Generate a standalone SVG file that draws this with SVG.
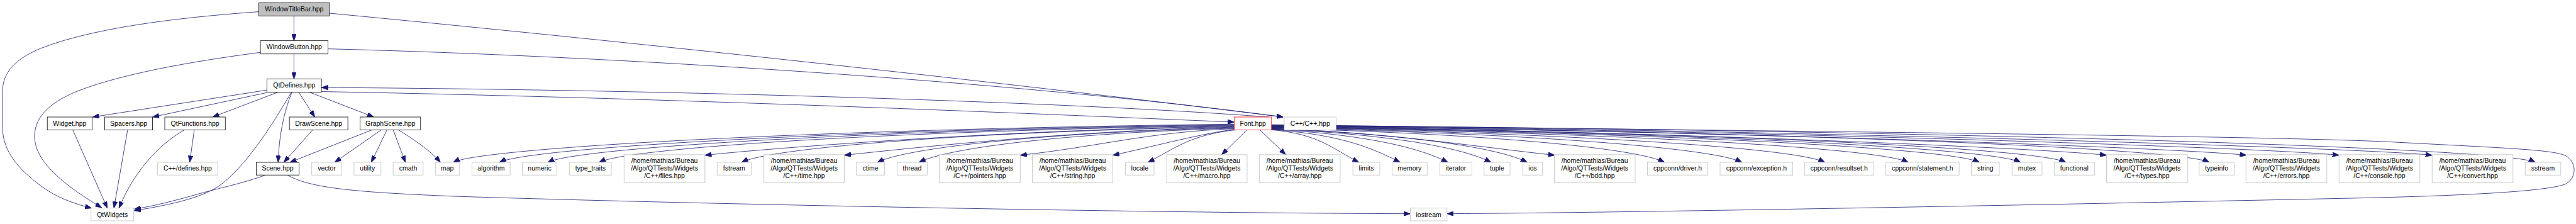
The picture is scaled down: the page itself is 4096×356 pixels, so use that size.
<svg xmlns="http://www.w3.org/2000/svg" width="4096" height="356" viewBox="0 0 4096 356">
<defs>
<marker id="a" viewBox="0 0 13 9.4" refX="13" refY="4.7" markerWidth="13" markerHeight="9.4" orient="auto" markerUnits="userSpaceOnUse"><path d="M0,0 L13,4.7 L0,9.4 Z" fill="#191970" stroke="#191970" stroke-width="1"/></marker>
<style>
.e path{fill:none;stroke:#191970;stroke-width:1;marker-end:url(#a)}
rect{fill:#fff;stroke-width:1}
.k rect{stroke:#000}
.g rect{stroke:#bfbfbf}
.r rect{stroke:#ff0000}
.m rect{fill:#bfbfbf;stroke:#000}
text{font-family:"Liberation Sans",Arial,Helvetica,sans-serif;font-size:13px;text-anchor:middle;fill:#000}
</style>
</defs>
<rect x="0" y="0" width="4096" height="356" style="fill:#fff;stroke:none"/>
<g transform="scale(0.8087)">
<g id="edges" class="e">
<path d="M578,31 L578,80"/>
<path d="M578,106 L578,155"/>
<path d="M509,23 C400,31 200,48 80,95 C20,120 5,150 5,180 L5,250 C5,300 40,335 80,365 C110,388 145,400 180,409"/>
<path d="M512,103 C420,115 250,140 150,180 C90,205 68,235 68,268 C68,310 110,355 200,408"/>
<path d="M525,177 L182,230"/>
<path d="M525,182 L300,230"/>
<path d="M547,181 L418,230"/>
<path d="M573,181 C530,255 480,330 430,366 C390,392 320,405 264,414"/>
<path d="M574,181 C558,220 548,270 547,319"/>
<path d="M587,181 L619,230"/>
<path d="M608,181 L735,230"/>
<path d="M615,255 L558,319"/>
<path d="M732,255 L570,319"/>
<path d="M750,255 L658,319"/>
<path d="M761,255 L730,319"/>
<path d="M773,255 L797,319"/>
<path d="M783,255 C815,275 845,295 866,319"/>
<path d="M382,255 L373,319"/>
<path d="M363,255 C310,285 262,340 234,409"/>
<path d="M143,255 L211,409"/>
<path d="M251,255 L224,409"/>
<path d="M522,344 C480,360 420,372 380,384 C330,398 300,405 264,411"/>
<path d="M565,344 C610,370 700,378 900,386 C1400,402 2300,419 2773,420"/>
<path d="M648,26 C1250,83 2000,165 2523,230"/>
<path d="M645,96 C1200,110 2000,160 2523,230"/>
<path d="M2495,230 C2100,200 1300,176 632,172"/>
<path d="M632,180 C1300,192 2000,222 2427,240"/>
<path d="M2427,244 C1583,254 946,291 891,319"/>
<path d="M2427,245 C1635,255 1037,291 982,319"/>
<path d="M2427,246 C1688,256 1132,291 1077,319"/>
<path d="M2427,247 C1745,257 1233,291 1178,319"/>
<path d="M2427,248 C2011,254 1536,289 1386,305"/>
<path d="M2427,249 C1898,259 1513,291 1458,319"/>
<path d="M2427,250 C2120,256 1810,289 1660,305"/>
<path d="M2427,251 C2045,261 1780,291 1725,319"/>
<path d="M2427,252 C2089,262 1862,291 1807,319"/>
<path d="M2427,253 C2259,259 2156,289 2006,305"/>
<path d="M2427,254 C2350,265 2260,290 2188,305"/>
<path d="M2432,255 C2339,265 2312,291 2257,319"/>
<path d="M2452,255 L2402,304"/>
<path d="M2477,255 L2528,304"/>
<path d="M2500,255 C2595,264 2617,291 2672,319"/>
<path d="M2500,254.5 C2639,265 2698,291 2753,319"/>
<path d="M2500,254 C2691,265 2792,291 2847,319"/>
<path d="M2500,253.5 C2738,264 2877,291 2932,319"/>
<path d="M2500,253 C2777,264 2948,291 3003,319"/>
<path d="M2500,252.5 C2723,259.5 2907,289 3057,305"/>
<path d="M2500,252 C2925,263 3218,291 3273,319"/>
<path d="M2500,251.5 C3009,262 3370,291 3425,319"/>
<path d="M2500,251 C3098,262 3533,291 3588,319"/>
<path d="M2500,250.5 C3189,261 3697,291 3752,319"/>
<path d="M2500,250 C3266,261 3837,291 3892,319"/>
<path d="M2500,249.5 C3310,260 3918,291 3973,319"/>
<path d="M2500,249 C3359,260 4007,291 4062,319"/>
<path d="M2500,248.5 C3157,255.5 3992,289 4142,305"/>
<path d="M2500,248 C3514,259 4289,291 4344,319"/>
<path d="M2500,247.5 C3267,254.5 4267,289 4417,305"/>
<path d="M2500,247 C3340,254 4449,289 4599,305"/>
<path d="M2500,246.5 C3413,253.5 4632,289 4782,305"/>
<path d="M2500,246 C3867,257 4930,291 4985,319"/>
<path d="M2500,245 C3200,255 4500,266 4720,280 C4950,292 5030,295 5048,308 C5066,322 5066,348 5046,361 C5010,378 4800,386 4600,390 C4000,403 3200,418 2845,420"/>
</g>
<g id="n-windowtitlebar" class="m"><rect x="509" y="5.7" width="139" height="25.6"/><text x="578.5" y="22.5">WindowTitleBar.hpp</text></g>
<g id="n-windowbutton" class="k"><rect x="512" y="80" width="133" height="26"/><text x="578.5" y="97">WindowButton.hpp</text></g>
<g id="n-qtdefines" class="k"><rect x="525" y="155" width="107" height="26"/><text x="578.5" y="172">QtDefines.hpp</text></g>
<g id="n-widget" class="k"><rect x="93" y="230" width="88" height="25.5"/><text x="137" y="247">Widget.hpp</text></g>
<g id="n-spacers" class="k"><rect x="206" y="230" width="94" height="25.5"/><text x="253" y="247">Spacers.hpp</text></g>
<g id="n-qtfunctions" class="k"><rect x="324" y="230" width="119" height="25.5"/><text x="383.5" y="247">QtFunctions.hpp</text></g>
<g id="n-drawscene" class="k"><rect x="569" y="230" width="115" height="25.5"/><text x="626.5" y="247">DrawScene.hpp</text></g>
<g id="n-graphscene" class="k"><rect x="708" y="230" width="119" height="25.5"/><text x="767.5" y="247">GraphScene.hpp</text></g>
<g id="n-font" class="r"><rect x="2427" y="230" width="73" height="25.5"/><text x="2463.5" y="247">Font.hpp</text></g>
<g id="n-cpp" class="g"><rect x="2525" y="230" width="102" height="25.5"/><text x="2576" y="247">C++/C++.hpp</text></g>
<g id="n-defines" class="g"><rect x="310" y="319" width="118" height="25"/><text x="369" y="335.5">C++/defines.hpp</text></g>
<g id="n-scene" class="k"><rect x="504" y="319" width="84" height="25"/><text x="546" y="335.5">Scene.hpp</text></g>
<g id="n-vector" class="g"><rect x="613" y="319" width="59" height="25"/><text x="642.5" y="335.5">vector</text></g>
<g id="n-utility" class="g"><rect x="696" y="319" width="53" height="25"/><text x="722.5" y="335.5">utility</text></g>
<g id="n-cmath" class="g"><rect x="773" y="319" width="59" height="25"/><text x="802.5" y="335.5">cmath</text></g>
<g id="n-map" class="g"><rect x="856" y="319" width="47" height="25"/><text x="879.5" y="335.5">map</text></g>
<g id="n-algorithm" class="g"><rect x="928" y="319" width="75" height="25"/><text x="965.5" y="335.5">algorithm</text></g>
<g id="n-numeric" class="g"><rect x="1027" y="319" width="68" height="25"/><text x="1061" y="335.5">numeric</text></g>
<g id="n-type_traits" class="g"><rect x="1120" y="319" width="82" height="25"/><text x="1161" y="335.5">type_traits</text></g>
<g id="n-files" class="g"><rect x="1227" y="304" width="159" height="55"/><text x="1306.5" y="320.5">/home/mathias/Bureau</text><text x="1306.5" y="335">/Algo/QTTests/Widgets</text><text x="1306.5" y="349.5">/C++/files.hpp</text></g>
<g id="n-fstream" class="g"><rect x="1410" y="319" width="67" height="25"/><text x="1443.5" y="335.5">fstream</text></g>
<g id="n-time" class="g"><rect x="1502" y="304" width="158" height="55"/><text x="1581" y="320.5">/home/mathias/Bureau</text><text x="1581" y="335">/Algo/QTTests/Widgets</text><text x="1581" y="349.5">/C++/time.hpp</text></g>
<g id="n-ctime" class="g"><rect x="1684" y="319" width="55" height="25"/><text x="1711.5" y="335.5">ctime</text></g>
<g id="n-thread" class="g"><rect x="1764" y="319" width="59" height="25"/><text x="1793.5" y="335.5">thread</text></g>
<g id="n-pointers" class="g"><rect x="1847" y="304" width="159" height="55"/><text x="1926.5" y="320.5">/home/mathias/Bureau</text><text x="1926.5" y="335">/Algo/QTTests/Widgets</text><text x="1926.5" y="349.5">/C++/pointers.hpp</text></g>
<g id="n-stringhpp" class="g"><rect x="2030" y="304" width="158" height="55"/><text x="2109" y="320.5">/home/mathias/Bureau</text><text x="2109" y="335">/Algo/QTTests/Widgets</text><text x="2109" y="349.5">/C++/string.hpp</text></g>
<g id="n-locale" class="g"><rect x="2213" y="319" width="56" height="25"/><text x="2241" y="335.5">locale</text></g>
<g id="n-macro" class="g"><rect x="2294" y="304" width="158" height="55"/><text x="2373" y="320.5">/home/mathias/Bureau</text><text x="2373" y="335">/Algo/QTTests/Widgets</text><text x="2373" y="349.5">/C++/macro.hpp</text></g>
<g id="n-array" class="g"><rect x="2476" y="304" width="159" height="55"/><text x="2555.5" y="320.5">/home/mathias/Bureau</text><text x="2555.5" y="335">/Algo/QTTests/Widgets</text><text x="2555.5" y="349.5">/C++/array.hpp</text></g>
<g id="n-limits" class="g"><rect x="2660" y="319" width="53" height="25"/><text x="2686.5" y="335.5">limits</text></g>
<g id="n-memory" class="g"><rect x="2737" y="319" width="69" height="25"/><text x="2771.5" y="335.5">memory</text></g>
<g id="n-iterator" class="g"><rect x="2831" y="319" width="63" height="25"/><text x="2862.5" y="335.5">iterator</text></g>
<g id="n-tuple" class="g"><rect x="2918" y="319" width="51" height="25"/><text x="2943.5" y="335.5">tuple</text></g>
<g id="n-ios" class="g"><rect x="2994" y="319" width="39" height="25"/><text x="3013.5" y="335.5">ios</text></g>
<g id="n-bdd" class="g"><rect x="3056" y="304" width="159" height="55"/><text x="3135.5" y="320.5">/home/mathias/Bureau</text><text x="3135.5" y="335">/Algo/QTTests/Widgets</text><text x="3135.5" y="349.5">/C++/bdd.hpp</text></g>
<g id="n-driver" class="g"><rect x="3239" y="319" width="119" height="25"/><text x="3298.5" y="335.5">cppconn/driver.h</text></g>
<g id="n-exception" class="g"><rect x="3382" y="319" width="143" height="25"/><text x="3453.5" y="335.5">cppconn/exception.h</text></g>
<g id="n-resultset" class="g"><rect x="3548" y="319" width="136" height="25"/><text x="3616" y="335.5">cppconn/resultset.h</text></g>
<g id="n-statement" class="g"><rect x="3708" y="319" width="144" height="25"/><text x="3780" y="335.5">cppconn/statement.h</text></g>
<g id="n-string" class="g"><rect x="3876" y="319" width="55" height="25"/><text x="3903.5" y="335.5">string</text></g>
<g id="n-mutex" class="g"><rect x="3956" y="319" width="59" height="25"/><text x="3985.5" y="335.5">mutex</text></g>
<g id="n-functional" class="g"><rect x="4039" y="319" width="79" height="25"/><text x="4078.5" y="335.5">functional</text></g>
<g id="n-types" class="g"><rect x="4142" y="304" width="159" height="55"/><text x="4221.5" y="320.5">/home/mathias/Bureau</text><text x="4221.5" y="335">/Algo/QTTests/Widgets</text><text x="4221.5" y="349.5">/C++/types.hpp</text></g>
<g id="n-typeinfo" class="g"><rect x="4324" y="319" width="69" height="25"/><text x="4358.5" y="335.5">typeinfo</text></g>
<g id="n-errors" class="g"><rect x="4416" y="304" width="159" height="55"/><text x="4495.5" y="320.5">/home/mathias/Bureau</text><text x="4495.5" y="335">/Algo/QTTests/Widgets</text><text x="4495.5" y="349.5">/C++/errors.hpp</text></g>
<g id="n-console" class="g"><rect x="4599" y="304" width="159" height="55"/><text x="4678.5" y="320.5">/home/mathias/Bureau</text><text x="4678.5" y="335">/Algo/QTTests/Widgets</text><text x="4678.5" y="349.5">/C++/console.hpp</text></g>
<g id="n-convert" class="g"><rect x="4782" y="304" width="159" height="55"/><text x="4861.5" y="320.5">/home/mathias/Bureau</text><text x="4861.5" y="335">/Algo/QTTests/Widgets</text><text x="4861.5" y="349.5">/C++/convert.hpp</text></g>
<g id="n-sstream" class="g"><rect x="4965" y="319" width="70" height="25"/><text x="5000" y="335.5">sstream</text></g>
<g id="n-qtwidgets" class="g"><rect x="179" y="409" width="84" height="25"/><text x="221" y="426">QtWidgets</text></g>
<g id="n-iostream" class="g"><rect x="2773" y="409" width="72" height="25"/><text x="2809" y="426">iostream</text></g>
</g>
</svg>
